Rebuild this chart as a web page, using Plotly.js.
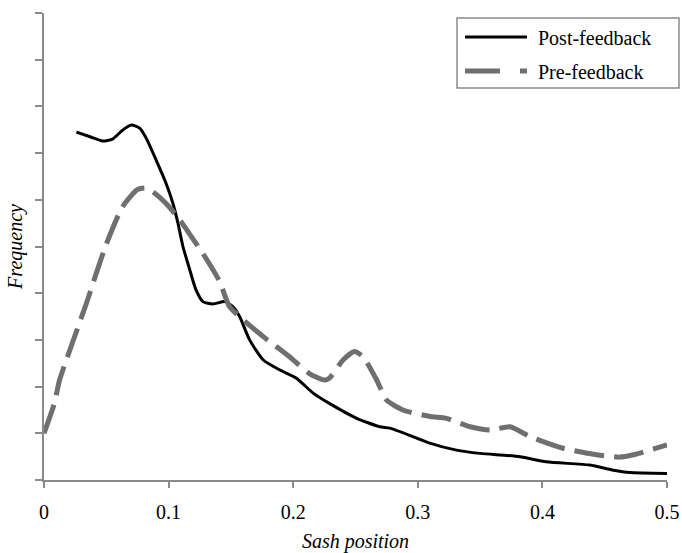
<!DOCTYPE html>
<html>
<head>
<meta charset="utf-8">
<script src="https://cdn.plot.ly/plotly-3.0.1.min.js"></script>
<style>html,body{margin:0;padding:0;background:#fff;}#chart{width:682px;height:553px;}</style>
</head>
<body>
<div id="chart"></div>
<script>
// Post-feedback (solid black)
var postX = [0.026, 0.037, 0.047, 0.055, 0.063, 0.070, 0.077, 0.082, 0.090, 0.098, 0.1035, 0.1075, 0.1115, 0.117, 0.122, 0.1275, 0.1356, 0.145, 0.1517, 0.157, 0.165, 0.176, 0.189, 0.2026, 0.216, 0.229, 0.251, 0.2695, 0.2775, 0.296, 0.3096, 0.331, 0.350, 0.382, 0.403, 0.438, 0.457, 0.470, 0.500];
var postY = [7.45, 7.35, 7.26, 7.30, 7.49, 7.60, 7.53, 7.32, 6.85, 6.35, 5.92, 5.50, 5.00, 4.50, 4.07, 3.82, 3.77, 3.82, 3.71, 3.50, 3.00, 2.57, 2.36, 2.18, 1.86, 1.64, 1.32, 1.14, 1.11, 0.93, 0.79, 0.64, 0.57, 0.50, 0.39, 0.32, 0.21, 0.16, 0.14];
// Pre-feedback (dashed grey)
var preX = [0.000, 0.0084, 0.0125, 0.034, 0.042, 0.050, 0.063, 0.075, 0.082, 0.0875, 0.098, 0.109, 0.1155, 0.1275, 0.141, 0.149, 0.176, 0.197, 0.213, 0.225, 0.229, 0.240, 0.249, 0.256, 0.267, 0.275, 0.288, 0.310, 0.323, 0.342, 0.358, 0.374, 0.390, 0.4166, 0.4435, 0.462, 0.473, 0.500];
var preY = [1.00, 1.65, 2.14, 3.78, 4.43, 5.05, 5.85, 6.22, 6.25, 6.17, 5.92, 5.57, 5.32, 4.85, 4.25, 3.71, 3.07, 2.64, 2.28, 2.14, 2.18, 2.57, 2.75, 2.64, 2.14, 1.71, 1.50, 1.36, 1.32, 1.14, 1.07, 1.14, 0.93, 0.68, 0.54, 0.49, 0.54, 0.75];
var seriesNames = ["Post-feedback", "Pre-feedback"];
var xTickVals = [0, 0.1, 0.2, 0.3, 0.4, 0.5];
var xTickText = ["0", "0.1", "0.2", "0.3", "0.4", "0.5"];

var FONT = "Liberation Serif, Times New Roman, serif";
var GREY = "#6f6f6f";

var traces = [
  {x: postX, y: postY, mode: "lines", name: seriesNames[0],
   line: {color: "#000000", width: 3, shape: "spline", smoothing: 0.6}},
  {x: preX, y: preY, mode: "lines", name: seriesNames[1],
   line: {color: GREY, width: 5, shape: "spline", smoothing: 0.6, dash: "30px,10px"}}
];

// legend geometry in paper coords (plot area: 44..667 px wide, 13..480 px tall)
function px(xp){ return (xp - 44) / 623; }
function py(yp){ return (480 - yp) / 467; }

var layout = {
  width: 682, height: 553,
  margin: {l: 44, r: 15, t: 13, b: 73},
  paper_bgcolor: "#ffffff", plot_bgcolor: "#ffffff",
  showlegend: false,
  font: {family: FONT, size: 20, color: "#000"},
  xaxis: {
    range: [0, 0.5], tickvals: xTickVals, ticktext: xTickText,
    ticks: "outside", ticklen: 6, tickwidth: 2, tickcolor: "#8a8a8a",
    ticklabelstandoff: 7,
    showline: true, linecolor: "#8a8a8a", linewidth: 2,
    showgrid: false, zeroline: false,
    tickfont: {family: FONT, size: 20, color: "#000"},
    title: {text: "<i>Sash position</i>", font: {family: FONT, size: 20, color: "#000"}, standoff: 14}
  },
  yaxis: {
    range: [0, 10], dtick: 1, tick0: 0,
    ticks: "outside", ticklen: 7, tickwidth: 2, tickcolor: "#8a8a8a",
    showticklabels: false,
    showline: true, linecolor: "#8a8a8a", linewidth: 2,
    showgrid: false, zeroline: false,
    title: {text: "<i>Frequency</i>", font: {family: FONT, size: 20, color: "#000"}, standoff: 7}
  },
  shapes: [
    {type: "rect", xref: "paper", yref: "paper", x0: px(457), x1: px(679), y0: py(88), y1: py(18),
     line: {color: "#8a8a8a", width: 1.5}, fillcolor: "#ffffff", layer: "above"},
    {type: "line", xref: "paper", yref: "paper", x0: px(465), x1: px(527), y0: py(37), y1: py(37),
     line: {color: "#000", width: 3}},
    {type: "line", xref: "paper", yref: "paper", x0: px(465), x1: px(527), y0: py(71), y1: py(71),
     line: {color: GREY, width: 5, dash: "35px,20px"}}
  ],
  annotations: [
    {xref: "paper", yref: "paper", x: px(536), y: py(38), xanchor: "left", yanchor: "middle",
     text: seriesNames[0], showarrow: false, font: {family: FONT, size: 20, color: "#000"}},
    {xref: "paper", yref: "paper", x: px(536), y: py(72), xanchor: "left", yanchor: "middle",
     text: seriesNames[1], showarrow: false, font: {family: FONT, size: 20, color: "#000"}}
  ]
};

Plotly.newPlot("chart", traces, layout, {displayModeBar: false, staticPlot: true});
</script>
</body>
</html>
